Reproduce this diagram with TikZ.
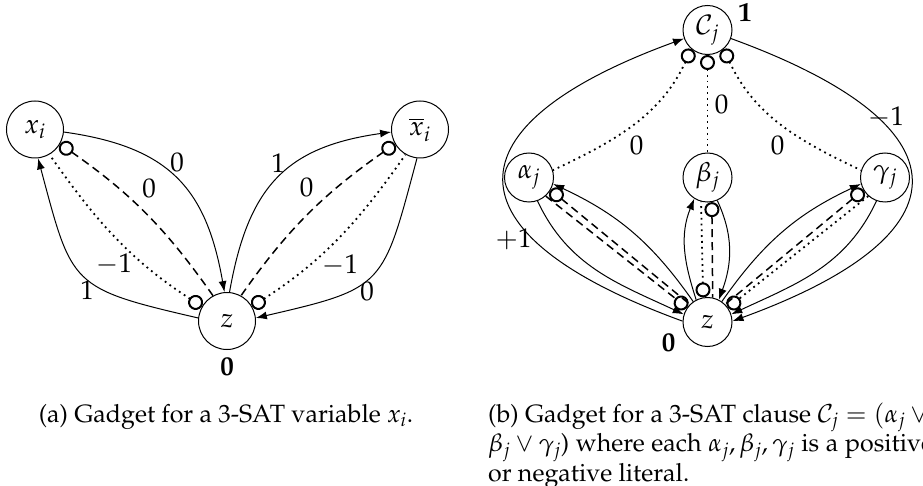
\documentclass[tikz,border=0pt]{standalone}
\usepackage[T1]{fontenc}
\usepackage{mathpazo}
\usetikzlibrary{arrows.meta}
\begin{document}
\begin{tikzpicture}[x=1pt,y=1pt,
  every node/.style={font=\fontsize{27}{32}\selectfont, inner sep=0pt},
  vtx/.style={circle, draw, line width=1pt, minimum size=57pt},
  vtxs/.style={vtx, minimum size=49pt},
  arr/.style={line width=1pt, -{Latex[length=11pt,width=8pt]}},
  dsh/.style={line width=1.5pt, dash pattern=on 8pt off 5pt},
  dts/.style={line width=1.8pt, dash pattern=on 1.8pt off 4pt},
  ocs/.style={{Circle[open,length=15pt,width=15pt,line width=2pt]}-},
  oce/.style={-{Circle[open,length=15pt,width=15pt,line width=2pt]}},
  wt/.style={font=\fontsize{27}{32}\selectfont\bfseries},
  captxt/.style={font=\fontsize{25}{29.5}\selectfont}
]
\useasboundingbox (0,0) rectangle (923,485);

% ---------- (a) ----------
\node[vtx] (X) at (35,355.5) {$x_i$};
\node[vtx] (XB) at (420,355.5) {$\overline{x}_i$};
\node[vtx] (Z) at (227,164) {$z$};
\node[wt] (Zw) at (227,118) {$\mathbf{0}$};

\draw[arr] (X.-5) to[out=-8,in=100,looseness=1.2] (Z.95);
\draw[dsh,ocs] (X.-30) to[out=-35,in=125] (Z.119);
\draw[dts,ocs] (Z.150) to[out=147,in=-55] (X.-60);
\draw[arr] (Z.174) to[out=167,in=-75,looseness=1.5] (X.-84);
\draw[arr] (Z.85) to[out=80,in=188,looseness=1.2] (XB.185);
\draw[dsh,ocs] (XB.210) to[out=215,in=55] (Z.61);
\draw[dts,ocs] (Z.30) to[out=33,in=235] (XB.240);
\draw[arr] (XB.264) to[out=255,in=13,looseness=1.5] (Z.6);

\node (la1) at (177,322.5) {$0$};
\node (la2) at (149,297) {$0$};
\node (la3) at (114,221) {$-1$};
\node (la4) at (87,195) {$1$};
\node (la5) at (278,322) {$1$};
\node (la6) at (306.5,297.5) {$0$};
\node (la7) at (340,220) {$-1$};
\node (la8) at (367,194) {$0$};

% ---------- (b) ----------
\node[vtxs] (C) at (707.5,455) {$\mathcal{C}_j$};
\node[wt] (Cw) at (745,472) {$\mathbf{1}$};
\node[vtxs] (A) at (529,307.5) {$\alpha_j$};
\node[vtxs] (B) at (707.5,307.5) {$\beta_j$};
\node[vtxs] (G) at (885,307.5) {$\gamma_j$};
\node[vtxs] (Z2) at (707.5,163) {$z$};
\node[wt] (Z2w) at (668.5,142.5) {$\mathbf{0}$};

\draw[arr] (Z2.178) to[out=160,in=200,looseness=2.3] (C.200);
\draw[arr] (C.-20) to[out=-20,in=20,looseness=2.3] (Z2.2);
\draw[dts,ocs] (C.230) to[out=245,in=25] (A.17);
\draw[dts,ocs] (C.270) -- (B.90);
\draw[dts,ocs] (C.310) to[out=295,in=155] (G.163);

\draw[arr] (Z2.125) to[out=125,in=-25] (A.-15);
\draw[arr] (A.290) to[out=295,in=155] (Z2.162);
\draw[dsh,ocs] (A.-30) -- (Z2.135);
\draw[dsh,oce] (A.-48) -- (Z2.145);

\draw[arr] (Z2.117) to[out=108,in=248] (B.238);
\draw[dts,ocs] (Z2.100) -- (B.255);
\draw[dsh,ocs] (B.-80) -- (Z2.78);
\draw[arr] (B.-67) to[out=-65,in=70] (Z2.63);

\draw[arr] (Z2.55) to[out=55,in=205] (G.195);
\draw[dsh,ocs] (G.210) -- (Z2.45);
\draw[dts,oce] (G.228) -- (Z2.35);
\draw[arr] (G.250) to[out=245,in=25] (Z2.18);

\node (lb1) at (636.5,340) {$0$};
\node (lb2) at (721.5,381) {$0$};
\node (lb3) at (777.5,340) {$0$};
\node (lb4) at (513.5,246) {$+1$};
\node (lb5) at (886,368) {$-1$};

% ---------- captions ----------
\node[captxt, anchor=base] (capa) at (226,63) {(a) Gadget for a 3-SAT variable $x_i$.};
\node[captxt, anchor=base west, text width=445pt, align=justify] (capb) at (488,63)
  {(b) Gadget for a 3-SAT clause $\mathcal{C}_j = (\alpha_j \vee{}$\linebreak
   $\beta_j \vee \gamma_j$) where each $\alpha_j, \beta_j, \gamma_j$ is a positive\linebreak
   or negative literal.};
\end{tikzpicture}
\end{document}
